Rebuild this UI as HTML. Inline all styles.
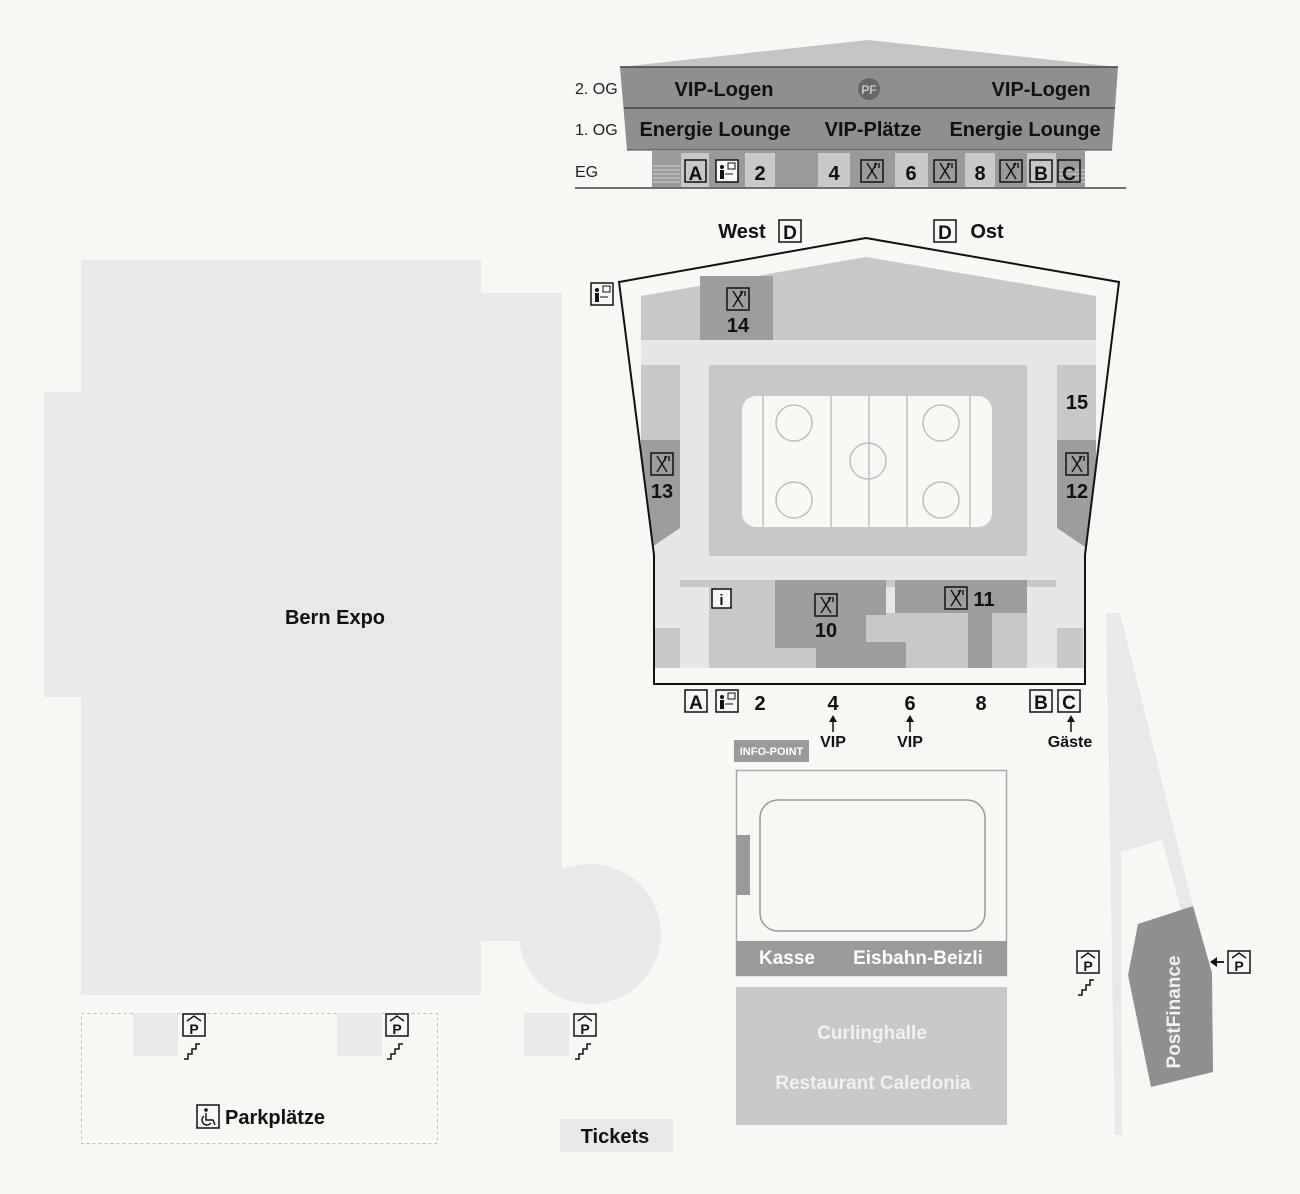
<!DOCTYPE html>
<html><head><meta charset="utf-8"><style>
html,body{margin:0;padding:0;background:#f8f7f4;}
svg{display:block;}
text{font-family:"Liberation Sans",sans-serif;}
.b{font-weight:bold;}
</style></head><body>
<svg width="1300" height="1194" viewBox="0 0 1300 1194" xmlns="http://www.w3.org/2000/svg">
<defs>
<clipPath id="ar"><polygon points="619,282 866,238 1119,282 1085,555 1085,684 654,684 654,555"/></clipPath>
<g id="fk"><rect x="0" y="0" width="22" height="22" fill="none" stroke="#111" stroke-width="1.5"/><path d="M6 3 L16 19 M16 3 L6 19 M14 3 L14 8 M18 3 L18 8" stroke="#111" stroke-width="1.4" fill="none"/></g>
<g id="inf"><rect x="0" y="0" width="22" height="22" fill="#f8f7f4" stroke="#111" stroke-width="1.5"/><circle cx="6" cy="7" r="2" fill="#111"/><rect x="4" y="10" width="4" height="9" fill="#111"/><rect x="12" y="3" width="7" height="6" fill="none" stroke="#111" stroke-width="1"/><path d="M9 14 H17" stroke="#111" stroke-width="1"/></g>
<g id="pk"><rect x="0" y="0" width="22" height="22" fill="#f8f7f4" stroke="#111" stroke-width="1.5"/><path d="M4 7 L11 2 L18 7" fill="none" stroke="#111" stroke-width="1.4"/><text x="11" y="20" font-size="14" font-weight="bold" text-anchor="middle" fill="#111">P</text></g>
<g id="st"><path d="M0 18 H4 V13 H8 V8 H12 V3 H16" fill="none" stroke="#111" stroke-width="1.5"/></g>
</defs>

<!-- Top building -->
<polygon points="620,67 868,40 1118,67" fill="#c4c4c4"/>
<polygon points="620,67 1118,67 1112,150 627,150" fill="#8f8f8f"/>
<line x1="620" y1="67" x2="1118" y2="67" stroke="#444" stroke-width="1.5"/>
<line x1="624" y1="108" x2="1115" y2="108" stroke="#444" stroke-width="1.5"/>
<line x1="627" y1="150" x2="1112" y2="150" stroke="#444" stroke-width="1"/>
<rect x="652" y="150" width="433" height="37" fill="#9a9a9a"/>
<g stroke="#c8c8c8" stroke-width="1.3"><line x1="653" y1="166" x2="680" y2="166"/><line x1="653" y1="170" x2="680" y2="170"/><line x1="653" y1="174" x2="680" y2="174"/><line x1="653" y1="178" x2="680" y2="178"/><line x1="653" y1="182" x2="680" y2="182"/>
<line x1="1058" y1="170" x2="1085" y2="170"/><line x1="1058" y1="174" x2="1085" y2="174"/><line x1="1058" y1="178" x2="1085" y2="178"/><line x1="1058" y1="182" x2="1085" y2="182"/></g>
<rect x="681" y="153" width="28" height="34" fill="#c8c8c8"/>
<rect x="745" y="153" width="30" height="34" fill="#c8c8c8"/>
<rect x="818" y="153" width="32" height="34" fill="#c8c8c8"/>
<rect x="895" y="153" width="33" height="34" fill="#c8c8c8"/>
<rect x="965" y="153" width="30" height="34" fill="#c8c8c8"/>
<rect x="1027" y="153" width="29" height="34" fill="#c8c8c8"/>
<rect x="685" y="160" width="21" height="22" fill="none" stroke="#111" stroke-width="1.5"/>
<text x="695.5" y="180" font-size="19" class="b" text-anchor="middle" fill="#111">A</text>
<use href="#inf" x="716" y="160"/>
<text x="760" y="180" font-size="20" class="b" text-anchor="middle" fill="#111">2</text>
<text x="834" y="180" font-size="20" class="b" text-anchor="middle" fill="#111">4</text>
<use href="#fk" x="861" y="160"/>
<text x="911" y="180" font-size="20" class="b" text-anchor="middle" fill="#111">6</text>
<use href="#fk" x="934" y="160"/>
<text x="980" y="180" font-size="20" class="b" text-anchor="middle" fill="#111">8</text>
<use href="#fk" x="1000" y="160"/>
<rect x="1030" y="160" width="22" height="22" fill="none" stroke="#111" stroke-width="1.5"/>
<text x="1041" y="180" font-size="19" class="b" text-anchor="middle" fill="#111">B</text>
<rect x="1058" y="160" width="22" height="22" fill="none" stroke="#111" stroke-width="1.5"/>
<text x="1069" y="180" font-size="19" class="b" text-anchor="middle" fill="#111">C</text>
<line x1="575" y1="188" x2="1126" y2="188" stroke="#444" stroke-width="1.5"/>
<text x="575" y="94" font-size="16" fill="#222">2. OG</text>
<text x="575" y="135" font-size="16" fill="#222">1. OG</text>
<text x="575" y="177" font-size="16" fill="#222">EG</text>
<text x="724" y="96" font-size="20" class="b" text-anchor="middle" fill="#111">VIP-Logen</text>
<text x="1041" y="96" font-size="20" class="b" text-anchor="middle" fill="#111">VIP-Logen</text>
<circle cx="869" cy="89" r="11" fill="#666"/>
<text x="869" y="94" font-size="12" text-anchor="middle" fill="#eee">PF</text>
<text x="715" y="136" font-size="20" class="b" text-anchor="middle" fill="#111">Energie Lounge</text>
<text x="873" y="136" font-size="20" class="b" text-anchor="middle" fill="#111">VIP-Plätze</text>
<text x="1025" y="136" font-size="20" class="b" text-anchor="middle" fill="#111">Energie Lounge</text>

<!-- Bern Expo -->
<polygon points="81,260 481,260 481,293 562,293 562,941 481,941 481,995 81,995 81,697 44,697 44,392 81,392" fill="#e8e8e8"/>
<ellipse cx="590" cy="934" rx="71" ry="70" fill="#e8e8e8"/>
<text x="335" y="624" font-size="20" class="b" text-anchor="middle" fill="#111">Bern Expo</text>

<!-- Arena -->
<polygon points="619,282 866,238 1119,282 1085,555 1085,684 654,684 654,555" fill="#f8f7f4"/>
<g clip-path="url(#ar)">
<rect x="641" y="340" width="455" height="328" fill="#e7e7e7"/>
<polygon points="641,296 866,257 1096,296 1096,340 641,340" fill="#c8c8c8"/>
<rect x="700" y="276" width="73" height="64" fill="#9d9d9d"/>
<rect x="641" y="365" width="39" height="75" fill="#c8c8c8"/>
<polygon points="641,440 680,440 680,528 652,547 641,547" fill="#9d9d9d"/>
<rect x="1057" y="365" width="39" height="75" fill="#c8c8c8"/>
<polygon points="1057,440 1096,440 1096,547 1085,547 1057,528" fill="#9d9d9d"/>
<rect x="709" y="365" width="318" height="191" fill="#c8c8c8"/>
<rect x="742" y="396" width="250" height="131" rx="14" fill="#f8f7f4"/>
<g stroke="#bdbdbd" stroke-width="1.5" fill="none">
<line x1="763" y1="396" x2="763" y2="527"/><line x1="831" y1="396" x2="831" y2="527"/><line x1="869" y1="396" x2="869" y2="527"/><line x1="907" y1="396" x2="907" y2="527"/><line x1="970" y1="396" x2="970" y2="527"/>
<circle cx="794" cy="423" r="18"/><circle cx="941" cy="423" r="18"/><circle cx="794" cy="500" r="18"/><circle cx="941" cy="500" r="18"/><circle cx="868" cy="461" r="18"/></g>
<rect x="680" y="580" width="376" height="7" fill="#c8c8c8"/>
<rect x="709" y="587" width="107" height="81" fill="#c8c8c8"/>
<rect x="866" y="613" width="102" height="55" fill="#c8c8c8"/>
<rect x="992" y="613" width="35" height="55" fill="#c8c8c8"/>
<polygon points="775,580 886,580 886,615 866,615 866,642 906,642 906,668 816,668 816,648 775,648" fill="#9d9d9d"/>
<rect x="895" y="580" width="132" height="33" fill="#9d9d9d"/>
<rect x="968" y="613" width="24" height="55" fill="#9d9d9d"/>
<rect x="654" y="628" width="26" height="40" fill="#c8c8c8"/>
<rect x="1057" y="628" width="26" height="40" fill="#c8c8c8"/>
</g>
<polygon points="619,282 866,238 1119,282 1085,555 1085,684 654,684 654,555" fill="none" stroke="#111" stroke-width="2"/>
<use href="#fk" x="727" y="288"/>
<text x="738" y="332" font-size="20" class="b" text-anchor="middle" fill="#111">14</text>
<use href="#fk" x="651" y="453"/>
<text x="662" y="498" font-size="20" class="b" text-anchor="middle" fill="#111">13</text>
<use href="#fk" x="1066" y="453"/>
<text x="1077" y="498" font-size="20" class="b" text-anchor="middle" fill="#111">12</text>
<text x="1077" y="409" font-size="20" class="b" text-anchor="middle" fill="#111">15</text>
<use href="#fk" x="815" y="594"/>
<text x="826" y="637" font-size="20" class="b" text-anchor="middle" fill="#111">10</text>
<use href="#fk" x="945" y="587"/>
<text x="984" y="606" font-size="20" class="b" text-anchor="middle" fill="#111">11</text>
<rect x="712" y="589" width="19" height="19" fill="#f8f7f4" stroke="#111" stroke-width="1.5"/>
<text x="721.5" y="605" font-size="15" class="b" text-anchor="middle" fill="#111">i</text>
<use href="#inf" x="591" y="283"/>
<text x="742" y="238" font-size="20" class="b" text-anchor="middle" fill="#111">West</text>
<rect x="779" y="220" width="22" height="22" fill="none" stroke="#111" stroke-width="1.5"/>
<text x="790" y="239" font-size="19" class="b" text-anchor="middle" fill="#111">D</text>
<rect x="934" y="220" width="22" height="22" fill="none" stroke="#111" stroke-width="1.5"/>
<text x="945" y="239" font-size="19" class="b" text-anchor="middle" fill="#111">D</text>
<text x="987" y="238" font-size="20" class="b" text-anchor="middle" fill="#111">Ost</text>

<!-- arena bottom labels -->
<rect x="685" y="690" width="22" height="22" fill="none" stroke="#111" stroke-width="1.5"/>
<text x="696" y="709" font-size="19" class="b" text-anchor="middle" fill="#111">A</text>
<use href="#inf" x="716" y="690"/>
<text x="760" y="710" font-size="20" class="b" text-anchor="middle" fill="#111">2</text>
<text x="833" y="710" font-size="20" class="b" text-anchor="middle" fill="#111">4</text>
<text x="910" y="710" font-size="20" class="b" text-anchor="middle" fill="#111">6</text>
<text x="981" y="710" font-size="20" class="b" text-anchor="middle" fill="#111">8</text>
<rect x="1030" y="690" width="22" height="22" fill="none" stroke="#111" stroke-width="1.5"/>
<text x="1041" y="709" font-size="19" class="b" text-anchor="middle" fill="#111">B</text>
<rect x="1058" y="690" width="22" height="22" fill="none" stroke="#111" stroke-width="1.5"/>
<text x="1069" y="709" font-size="19" class="b" text-anchor="middle" fill="#111">C</text>
<g stroke="#111" stroke-width="1.5"><line x1="833" y1="719" x2="833" y2="732"/><line x1="910" y1="719" x2="910" y2="732"/><line x1="1071" y1="719" x2="1071" y2="732"/></g>
<g fill="#111"><polygon points="829,722 833,715 837,722"/><polygon points="906,722 910,715 914,722"/><polygon points="1067,722 1071,715 1075,722"/></g>
<text x="833" y="747" font-size="16" class="b" text-anchor="middle" fill="#111">VIP</text>
<text x="910" y="747" font-size="16" class="b" text-anchor="middle" fill="#111">VIP</text>
<text x="1070" y="747" font-size="16" class="b" text-anchor="middle" fill="#111">Gäste</text>

<!-- Info point & ice rink 2 -->
<rect x="734" y="740" width="75" height="22" fill="#9a9a9a"/>
<text x="771.5" y="755" font-size="11" class="b" text-anchor="middle" fill="#fff">INFO-POINT</text>
<rect x="736.5" y="770.5" width="270" height="205" fill="none" stroke="#a8a8a8" stroke-width="1.5"/>
<rect x="760" y="800" width="225" height="131" rx="18" fill="none" stroke="#999" stroke-width="1.5"/>
<rect x="736" y="835" width="14" height="60" fill="#9a9a9a"/>
<rect x="736" y="941" width="271" height="35" fill="#9a9a9a"/>
<text x="787" y="964" font-size="19" class="b" text-anchor="middle" fill="#fff">Kasse</text>
<text x="918" y="964" font-size="19" class="b" text-anchor="middle" fill="#fff">Eisbahn-Beizli</text>
<rect x="736" y="987" width="271" height="138" fill="#c8c8c8"/>
<text x="872" y="1039" font-size="19" class="b" text-anchor="middle" fill="#f2f2f2">Curlinghalle</text>
<text x="873" y="1089" font-size="19" class="b" text-anchor="middle" fill="#f2f2f2">Restaurant Caledonia</text>

<!-- Right roads & PostFinance -->
<polygon points="1106,613 1120,613 1193,906 1181,910 1162,840 1121,852 1122,1135 1115,1135" fill="#e8e8e8"/>
<polygon points="1138,924 1193,906 1212,973 1213,1072 1151,1087 1128,975" fill="#8f8f8f"/>
<text transform="translate(1180,1012) rotate(-90)" font-size="19" class="b" text-anchor="middle" fill="#f2f2f2">PostFinance</text>
<use href="#pk" x="1228" y="951"/>
<line x1="1212" y1="962" x2="1224" y2="962" stroke="#111" stroke-width="1.8"/>
<polygon points="1210,962 1217,957 1217,967" fill="#111"/>
<use href="#pk" x="1077" y="951"/>
<use href="#st" x="1078" y="977"/>

<!-- Parking -->
<rect x="81.5" y="1013.5" width="356" height="130" fill="none" stroke="#bbb" stroke-width="1" stroke-dasharray="3,3"/>
<rect x="133" y="1013" width="45" height="43" fill="#e8e8e8"/>
<rect x="337" y="1013" width="45" height="43" fill="#e8e8e8"/>
<rect x="524" y="1013" width="45" height="43" fill="#e8e8e8"/>
<use href="#pk" x="183" y="1014"/><use href="#st" x="184" y="1041"/>
<use href="#pk" x="386" y="1014"/><use href="#st" x="387" y="1041"/>
<use href="#pk" x="574" y="1014"/><use href="#st" x="575" y="1041"/>
<rect x="197" y="1105" width="22" height="23" fill="none" stroke="#111" stroke-width="1.5"/>
<circle cx="206" cy="1110" r="1.8" fill="#111"/>
<path d="M206 1113 V1120 H213 L215 1125 M204 1116 A5 5 0 1 0 211 1123" fill="none" stroke="#111" stroke-width="1.4"/>
<text x="225" y="1124" font-size="20" class="b" fill="#111">Parkplätze</text>
<rect x="560" y="1119" width="113" height="33" fill="#e8e8e8"/>
<text x="615" y="1143" font-size="20" class="b" text-anchor="middle" fill="#111">Tickets</text>
</svg>
</body></html>
